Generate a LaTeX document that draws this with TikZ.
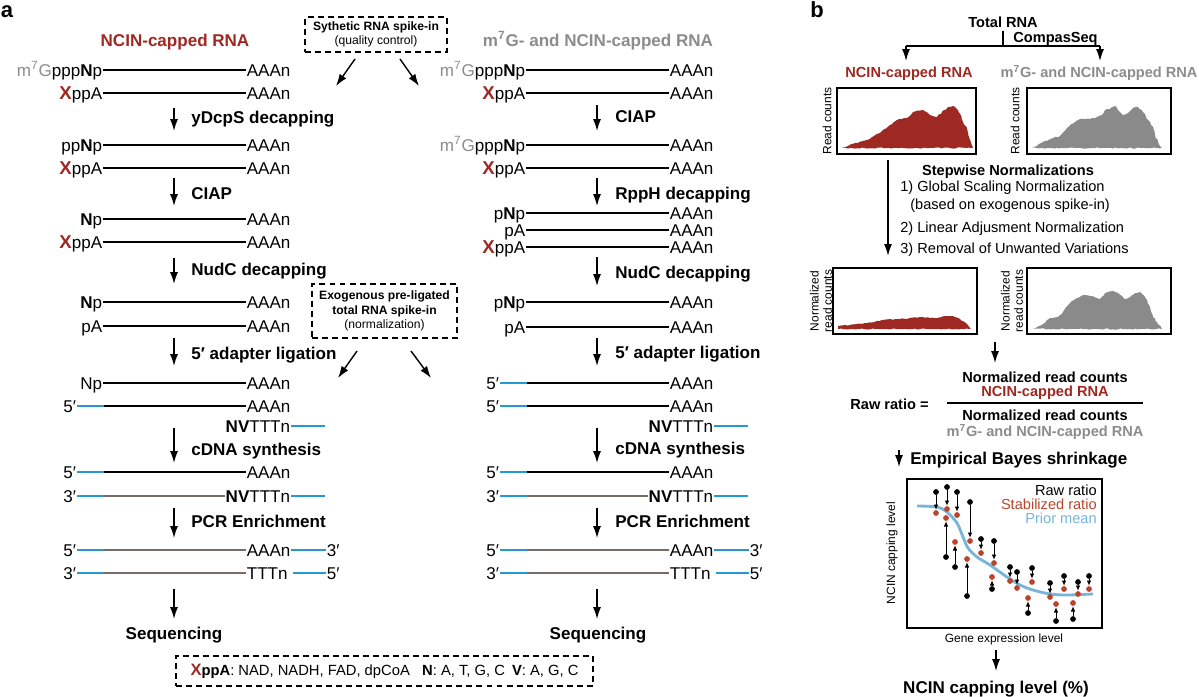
\documentclass[tikz,border=0pt]{standalone}
\usepackage{fontspec}
\setmainfont{Liberation Sans}
\usepackage{tikz}
\usetikzlibrary{arrows.meta, decorations.pathmorphing}
\definecolor{ncinred}{RGB}{158,40,34}
\definecolor{capgray}{RGB}{140,140,140}
\definecolor{histgray}{RGB}{138,138,138}
\definecolor{adblue}{RGB}{38,152,212}
\definecolor{cdnabrown}{RGB}{120,108,100}
\definecolor{stabred}{RGB}{184,70,44}
\definecolor{priorblue}{RGB}{118,180,218}
\newcommand{\xcap}{\textcolor{ncinred}{\fontsize{10.6}{11}\selectfont\bfseries X}}
\newcommand{\mseven}{\textcolor{capgray}{m\textsuperscript{7}G}}

\begin{document}
\begin{tikzpicture}[x = 0.02cm, y = -0.02cm]
% Node styles ---
\tikzstyle{lbl} = [anchor = east, inner sep = 0.3pt, text height = 6.95pt, text depth = 0pt, font = \fontsize{9.7}{11}\selectfont] % 5' ends
\tikzstyle{tl} = [lbl, anchor = west] % 3' ends
\tikzstyle{ttl} = [inner sep = 0pt, text height = 6.95pt, text depth = 0pt, font = \fontsize{9.7}{11}\selectfont\bfseries] % Titles
\tikzstyle{enz} = [ttl, anchor = west] % Enzymatic steps
\tikzstyle{panel} = [anchor = base, inner sep = 0pt, font = \fontsize{12.5}{14}\selectfont\bfseries] % Panel letters
\tikzstyle{dbox} = [draw, line width = 0.7pt, dash pattern = on 3.4pt off 2.3pt, align = center, inner sep = 0pt, font = \fontsize{6.9}{8.2}\selectfont] % Spike-in boxes
\tikzstyle{hb} = [inner sep = 0pt, text height = 5.95pt, text depth = 0pt, font = \fontsize{8.3}{10}\selectfont\bfseries] % Panel b, bold
\tikzstyle{tb} = [hb, font = \fontsize{8.3}{10}\selectfont] % Panel b, plain
\tikzstyle{ax} = [align = center, inner sep = 0pt, font = \fontsize{6.8}{7.6}\selectfont] % Axis labels
\tikzstyle{raw} = [circle, fill = black, inner sep = 0pt, minimum size = 0.115cm] % Raw ratio
\tikzstyle{stb} = [raw, fill = stabred] % Stabilized ratio
% Edge styles
\tikzstyle{rna} = [draw, line width = 1.2pt] % RNA
\tikzstyle{ada} = [draw = adblue, line width = 1.2pt] % Adapters
\tikzstyle{cdna} = [draw = cdnabrown, line width = 1.2pt] % cDNA
\tikzstyle{con} = [draw, -{Latex[length = 6.8pt, width = 4.6pt]}, line width = 0.8pt] % Steps
\tikzstyle{shr} = [draw, -{Latex[length = 3pt, width = 2.6pt]}, line width = 0.55pt] % Shrinkage
\tikzstyle{box} = [line width = 0.7pt] % Plot frames
% Begin Figure ---
\useasboundingbox (0,0) rectangle (1199,696);

% Panel a: NCIN-capped RNA ---
\node at (7,18) [panel] (pa) {a};
\node at (175,40) [ttl, text = ncinred] (Lttl) {NCIN-capped RNA};
% Nodes
\node at (103,70) [lbl] (L1s) {\mseven ppp\textbf{N}p};
\node at (246,70) [tl] (L1t) {AAAn};
\node at (103,93) [lbl] (L2s) {\xcap ppA};
\node at (246,93) [tl] (L2t) {AAAn};
\node at (103,145) [lbl] (L3s) {pp\textbf{N}p};
\node at (246,145) [tl] (L3t) {AAAn};
\node at (103,168) [lbl] (L4s) {\xcap ppA};
\node at (246,168) [tl] (L4t) {AAAn};
\node at (103,219) [lbl] (L5s) {\textbf{N}p};
\node at (246,219) [tl] (L5t) {AAAn};
\node at (103,242) [lbl] (L6s) {\xcap ppA};
\node at (246,242) [tl] (L6t) {AAAn};
\node at (103,302) [lbl] (L7s) {\textbf{N}p};
\node at (246,302) [tl] (L7t) {AAAn};
\node at (103,326) [lbl] (L8s) {pA};
\node at (246,326) [tl] (L8t) {AAAn};
\node at (103,383) [lbl] (L9s) {Np};
\node at (246,383) [tl] (L9t) {AAAn};
\node at (77,406) [lbl] (L10s) {5′};
\coordinate (L10a) at (104,406);
\node at (246,406) [tl] (L10t) {AAAn};
\node at (291,426) [lbl] (L11s) {\textbf{NV}TTTn};
\coordinate (L11e) at (325,426);
\node at (77,472) [lbl] (L12s) {5′};
\coordinate (L12a) at (104,472);
\node at (246,472) [tl] (L12t) {AAAn};
\node at (77,496) [lbl] (L13s) {3′};
\coordinate (L13a) at (104,496);
\node at (291,496) [lbl] (L13n) {\textbf{NV}TTTn};
\coordinate (L13e) at (325,496);
\node at (77,550) [lbl] (L14s) {5′};
\coordinate (L14a) at (104,550);
\node at (246,550) [tl] (L14t) {AAAn};
\node at (326,550) [tl] (L14e) {3′};
\node at (77,573) [lbl] (L15s) {3′};
\coordinate (L15a) at (104,573);
\node at (246,573) [tl] (L15t) {TTTn};
\coordinate (L15b) at (293,573);
\node at (326,573) [tl] (L15e) {5′};
% Paths
\path (L1s) edge [rna] (L1t);
\path (L2s) edge [rna] (L2t);
\path (L3s) edge [rna] (L3t);
\path (L4s) edge [rna] (L4t);
\path (L5s) edge [rna] (L5t);
\path (L6s) edge [rna] (L6t);
\path (L7s) edge [rna] (L7t);
\path (L8s) edge [rna] (L8t);
\path (L9s) edge [rna] (L9t);
\path (L10s) edge [ada] (L10a);
\path (L10a) edge [rna] (L10t);
\path (L11s) edge [ada] (L11e);
\path (L12s) edge [ada] (L12a);
\path (L12a) edge [rna] (L12t);
\path (L13s) edge [ada] (L13a);
\path (L13a) edge [cdna] (L13n);
\path (L13n) edge [ada] (L13e);
\path (L14s) edge [ada] (L14a);
\path (L14a) edge [cdna] (L14t);
\path (L14t) edge [ada] (L14e);
\path (L15s) edge [ada] (L15a);
\path (L15a) edge [cdna] (L15t);
\path (L15b) edge [ada] (L15e);
% Steps
\coordinate (La1) at (174,108); \coordinate (Lb1) at (174,131);
\coordinate (La2) at (174,178); \coordinate (Lb2) at (174,206);
\coordinate (La3) at (174,258); \coordinate (Lb3) at (174,284);
\coordinate (La4) at (174,338); \coordinate (Lb4) at (174,366);
\coordinate (La5) at (174,428); \coordinate (Lb5) at (174,463);
\coordinate (La6) at (174,508); \coordinate (Lb6) at (174,538);
\coordinate (La7) at (174,589); \coordinate (Lb7) at (174,619);
\path (La1) edge [con] (Lb1);
\path (La2) edge [con] (Lb2);
\path (La3) edge [con] (Lb3);
\path (La4) edge [con] (Lb4);
\path (La5) edge [con] (Lb5);
\path (La6) edge [con] (Lb6);
\path (La7) edge [con] (Lb7);
\node at (191,117) [enz] (Le1) {yDcpS decapping};
\node at (191,193) [enz] (Le2) {CIAP};
\node at (191,269) [enz] (Le3) {NudC decapping};
\node at (191,353) [enz] (Le4) {5′ adapter ligation};
\node at (191,449) [enz] (Le5) {cDNA synthesis};
\node at (191,521) [enz] (Le6) {PCR Enrichment};
\node at (174,633) [ttl] (Lseq) {Sequencing};

% Panel a: m7G- and NCIN-capped RNA ---
\node at (598,40) [ttl, text = capgray] (Rttl) {m\textsuperscript{7}G- and NCIN-capped RNA};
% Nodes
\node at (526,70) [lbl] (R1s) {\mseven ppp\textbf{N}p};
\node at (669,70) [tl] (R1t) {AAAn};
\node at (526,93) [lbl] (R2s) {\xcap ppA};
\node at (669,93) [tl] (R2t) {AAAn};
\node at (526,145) [lbl] (R3s) {\mseven ppp\textbf{N}p};
\node at (669,145) [tl] (R3t) {AAAn};
\node at (526,168) [lbl] (R4s) {\xcap ppA};
\node at (669,168) [tl] (R4t) {AAAn};
\node at (526,213) [lbl] (R5s) {p\textbf{N}p};
\node at (669,213) [tl] (R5t) {AAAn};
\node at (526,230) [lbl] (R6s) {pA};
\node at (669,230) [tl] (R6t) {AAAn};
\node at (526,247) [lbl] (R7s) {\xcap ppA};
\node at (669,247) [tl] (R7t) {AAAn};
\node at (526,302) [lbl] (R8s) {p\textbf{N}p};
\node at (669,302) [tl] (R8t) {AAAn};
\node at (526,327) [lbl] (R9s) {pA};
\node at (669,327) [tl] (R9t) {AAAn};
\node at (500,383) [lbl] (R10s) {5′};
\coordinate (R10a) at (527,383);
\node at (669,383) [tl] (R10t) {AAAn};
\node at (500,406) [lbl] (R11s) {5′};
\coordinate (R11a) at (527,406);
\node at (669,406) [tl] (R11t) {AAAn};
\node at (714,426) [lbl] (R12s) {\textbf{NV}TTTn};
\coordinate (R12e) at (748,426);
\node at (500,472) [lbl] (R13s) {5′};
\coordinate (R13a) at (527,472);
\node at (669,472) [tl] (R13t) {AAAn};
\node at (500,496) [lbl] (R14s) {3′};
\coordinate (R14a) at (527,496);
\node at (714,496) [lbl] (R14n) {\textbf{NV}TTTn};
\coordinate (R14e) at (748,496);
\node at (500,550) [lbl] (R15s) {5′};
\coordinate (R15a) at (527,550);
\node at (669,550) [tl] (R15t) {AAAn};
\node at (749,550) [tl] (R15e) {3′};
\node at (500,573) [lbl] (R16s) {3′};
\coordinate (R16a) at (527,573);
\node at (669,573) [tl] (R16t) {TTTn};
\coordinate (R16b) at (716,573);
\node at (749,573) [tl] (R16e) {5′};
% Paths
\path (R1s) edge [rna] (R1t);
\path (R2s) edge [rna] (R2t);
\path (R3s) edge [rna] (R3t);
\path (R4s) edge [rna] (R4t);
\path (R5s) edge [rna] (R5t);
\path (R6s) edge [rna] (R6t);
\path (R7s) edge [rna] (R7t);
\path (R8s) edge [rna] (R8t);
\path (R9s) edge [rna] (R9t);
\path (R10s) edge [ada] (R10a);
\path (R10a) edge [rna] (R10t);
\path (R11s) edge [ada] (R11a);
\path (R11a) edge [rna] (R11t);
\path (R12s) edge [ada] (R12e);
\path (R13s) edge [ada] (R13a);
\path (R13a) edge [rna] (R13t);
\path (R14s) edge [ada] (R14a);
\path (R14a) edge [cdna] (R14n);
\path (R14n) edge [ada] (R14e);
\path (R15s) edge [ada] (R15a);
\path (R15a) edge [cdna] (R15t);
\path (R15t) edge [ada] (R15e);
\path (R16s) edge [ada] (R16a);
\path (R16a) edge [cdna] (R16t);
\path (R16b) edge [ada] (R16e);
% Steps
\coordinate (Ra1) at (597,105); \coordinate (Rb1) at (597,131);
\coordinate (Ra2) at (597,178); \coordinate (Rb2) at (597,206);
\coordinate (Ra3) at (597,257); \coordinate (Rb3) at (597,286);
\coordinate (Ra4) at (597,338); \coordinate (Rb4) at (597,366);
\coordinate (Ra5) at (597,428); \coordinate (Rb5) at (597,463);
\coordinate (Ra6) at (597,508); \coordinate (Rb6) at (597,538);
\coordinate (Ra7) at (597,589); \coordinate (Rb7) at (597,619);
\path (Ra1) edge [con] (Rb1);
\path (Ra2) edge [con] (Rb2);
\path (Ra3) edge [con] (Rb3);
\path (Ra4) edge [con] (Rb4);
\path (Ra5) edge [con] (Rb5);
\path (Ra6) edge [con] (Rb6);
\path (Ra7) edge [con] (Rb7);
\node at (615,116) [enz] (Re1) {CIAP};
\node at (615,193) [enz] (Re2) {RppH decapping};
\node at (615,272) [enz] (Re3) {NudC decapping};
\node at (615,352) [enz] (Re4) {5′ adapter ligation};
\node at (615,448) [enz] (Re5) {cDNA synthesis};
\node at (615,521) [enz] (Re6) {PCR Enrichment};
\node at (598,633) [ttl] (Rseq) {Sequencing};

% Spike-ins
\node at (376,34.5) [dbox, minimum width = 2.84cm, minimum height = 0.7cm] (qc) {\textbf{Sythetic RNA spike-in}\\(quality control)};
\node at (384.5,311) [dbox, minimum width = 2.9cm, minimum height = 1.08cm, font = \fontsize{6.9}{8.3}\selectfont] (nm) {\textbf{Exogenous pre-ligated}\\\textbf{total RNA spike-in}\\(normalization)};
\coordinate (qc1) at (355,59); \coordinate (qc2) at (336,86);
\coordinate (qc3) at (400,59); \coordinate (qc4) at (419,86);
\coordinate (nm1) at (357,351); \coordinate (nm2) at (338,378);
\coordinate (nm3) at (411,351); \coordinate (nm4) at (431,378);
\path (qc1) edge [con] (qc2);
\path (qc3) edge [con] (qc4);
\path (nm1) edge [con] (nm2);
\path (nm3) edge [con] (nm4);
% Key
\node at (384.5,671) [dbox, minimum width = 8.34cm, minimum height = 0.6cm, font = \fontsize{8.4}{10}\selectfont] (key) {\textcolor{ncinred}{\fontsize{9.4}{10}\selectfont\bfseries X}\textbf{ppA}: NAD, NADH, FAD, dpCoA\hspace{7pt}\textbf{N}: A, T, G, C\hspace{4pt}\textbf{V}: A, G, C};

% Panel b ---
\node at (817,18) [panel] (pb) {b};
\node at (1003,22) [hb] (tot) {Total RNA};
\node at (1013,37) [hb, anchor = west] (cseq) {CompasSeq};
\coordinate (tt) at (1003,31); \coordinate (tj) at (1003,46);
\coordinate (tl) at (906,46); \coordinate (tr) at (1100,46);
\coordinate (tla) at (906,61); \coordinate (tra) at (1100,61);
\draw [line width = 0.8pt] (tt) -- (tj);
\draw [line width = 0.8pt] (tl) -- (tr);
\path (tl) edge [con] (tla);
\path (tr) edge [con] (tra);
\node at (909,72) [hb, text = ncinred] (bn) {NCIN-capped RNA};
\node at (1099,72) [hb, text = capgray] (bm) {m\textsuperscript{7}G- and NCIN-capped RNA};
% Read count profiles
\pgfmathsetseed{7}
\fill [ncinred, decorate, decoration = {random steps, segment length = 1.4pt, amplitude = 0.35pt}] (842,148) -- (853,144) -- (867,140) -- (880,133) -- (890,125) -- (897,120) -- (907,118) -- (913,112) -- (923,110) -- (930,115) -- (937,117) -- (942,112) -- (948,107) -- (953,106) -- (958,110) -- (963,122) -- (967,128) -- (970,140) -- (973,148) -- cycle;
\fill [histgray, decorate, decoration = {random steps, segment length = 1.4pt, amplitude = 0.35pt}] (1032,148) -- (1043,142) -- (1053,138) -- (1060,136) -- (1067,128) -- (1075,122) -- (1080,119) -- (1090,119) -- (1097,117) -- (1102,115) -- (1105,110) -- (1110,109) -- (1115,106) -- (1118,110) -- (1123,115) -- (1128,113) -- (1133,108) -- (1138,107) -- (1143,112) -- (1148,120) -- (1153,127) -- (1155,135) -- (1158,142) -- (1162,148) -- cycle;
\fill [ncinred, decorate, decoration = {random steps, segment length = 1.4pt, amplitude = 0.3pt}] (838,329) -- (838,326) -- (850,325) -- (867,323) -- (883,320) -- (900,319) -- (910,318) -- (920,317) -- (930,318) -- (937,318) -- (947,316) -- (953,316) -- (960,319) -- (967,324) -- (971,329) -- cycle;
\fill [histgray, decorate, decoration = {random steps, segment length = 1.4pt, amplitude = 0.35pt}] (1033,329) -- (1043,324) -- (1050,318) -- (1058,317) -- (1063,312) -- (1070,303) -- (1077,298) -- (1083,295) -- (1090,296) -- (1100,299) -- (1105,293) -- (1113,291) -- (1118,293) -- (1125,299) -- (1130,297) -- (1135,293) -- (1140,292) -- (1145,297) -- (1150,307) -- (1153,317) -- (1157,322) -- (1162,329) -- cycle;
\draw [box] (837,88) rectangle (976,154);
\draw [box] (1027,88) rectangle (1171,154);
\draw [box] (833,268) rectangle (977,334);
\draw [box] (1027,268) rectangle (1171,334);
\node at (827,121) [ax, rotate = 90] (yc1) {Read counts};
\node at (1015,121) [ax, rotate = 90] (yc2) {Read counts};
\node at (821,301) [ax, rotate = 90] (yc3) {Normalized\\read counts};
\node at (1012,301) [ax, rotate = 90] (yc4) {Normalized\\read counts};
% Normalizations
\coordinate (sn1) at (888,160); \coordinate (sn2) at (888,256);
\path (sn1) edge [con, line width = 1pt] (sn2);
\node at (1008,170) [hb] (sw) {Stepwise Normalizations};
\node at (900,186) [tb, anchor = west] (sw1) {1) Global Scaling Normalization};
\node at (910,204) [tb, anchor = west] (sw2) {(based on exogenous spike-in)};
\node at (900,227) [tb, anchor = west] (sw3) {2) Linear Adjusment Normalization};
\node at (900,248) [tb, anchor = west] (sw4) {3) Removal of Unwanted Variations};
% Raw ratio
\coordinate (rr1) at (995,342); \coordinate (rr2) at (995,363);
\path (rr1) edge [con] (rr2);
\node at (1045,377) [hb] (nu1) {Normalized read counts};
\node at (1045,391) [hb, text = ncinred] (nu2) {NCIN-capped RNA};
\coordinate (fl) at (947,403); \coordinate (fr) at (1143,403);
\draw [line width = 1.5pt] (fl) -- (fr);
\node at (1045,415) [hb] (de1) {Normalized read counts};
\node at (1045,431) [hb, text = capgray] (de2) {m\textsuperscript{7}G- and NCIN-capped RNA};
\node at (850,404) [hb, anchor = west] (rr) {Raw ratio =};
% Shrinkage
\coordinate (eb1) at (899,450); \coordinate (eb2) at (899,467);
\path (eb1) edge [con] (eb2);
\node at (910,458) [enz] (eb) {Empirical Bayes shrinkage};
\draw [box] (907,479) rectangle (1102,628);
\node at (892,553) [ax, rotate = 90] (yl) {NCIN capping level};
\node at (1004,639) [ax] (xl) {Gene expression level};
\draw [priorblue, line width = 1.6pt] plot [smooth] coordinates {(917,506) (937,507) (947,512) (957,523) (963,537) (968,548) (977,557) (990,565) (1007,577) (1020,585) (1033,590) (1050,594) (1067,595) (1093,594)};
\node at (1097,490) [tb, anchor = east] (lg1) {Raw ratio};
\node at (1097,504) [tb, anchor = east, text = stabred] (lg2) {Stabilized ratio};
\node at (1097,518) [tb, anchor = east, text = priorblue] (lg3) {Prior mean};
\node at (936,492) [raw] (r1) {}; \node at (936,513) [stb] (s1) {}; \path (r1) edge [shr] (s1);
\node at (947,487) [raw] (r2) {}; \node at (947,509) [stb] (s2) {}; \path (r2) edge [shr] (s2);
\node at (957,492) [raw] (r3) {}; \node at (957,515) [stb] (s3) {}; \path (r3) edge [shr] (s3);
\node at (946,557) [raw] (r4) {}; \node at (946,518) [stb] (s4) {}; \path (r4) edge [shr] (s4);
\node at (955,567) [raw] (r5) {}; \node at (955,542) [stb] (s5) {}; \path (r5) edge [shr] (s5);
\node at (970,502) [raw] (r6) {}; \node at (970,541) [stb] (s6) {}; \path (r6) edge [shr] (s6);
\node at (967,596) [raw] (r7) {}; \node at (967,559) [stb] (s7) {}; \path (r7) edge [shr] (s7);
\node at (981,539) [raw] (r8) {}; \node at (981,553) [stb] (s8) {}; \path (r8) edge [shr] (s8);
\node at (994,541) [raw] (r9) {}; \node at (994,563) [stb] (s9) {}; \path (r9) edge [shr] (s9);
\node at (992,589) [raw] (r10) {}; \node at (992,577) [stb] (s10) {}; \path (r10) edge [shr] (s10);
\node at (1010,567) [raw] (r11) {}; \node at (1010,581) [stb] (s11) {}; \path (r11) edge [shr] (s11);
\node at (1017,572) [raw] (r12) {}; \node at (1017,588) [stb] (s12) {}; \path (r12) edge [shr] (s12);
\node at (1032,568) [raw] (r13) {}; \node at (1032,582) [stb] (s13) {}; \path (r13) edge [shr] (s13);
\node at (1028,613) [raw] (r14) {}; \node at (1028,598) [stb] (s14) {}; \path (r14) edge [shr] (s14);
\node at (1050,583) [raw] (r15) {}; \node at (1050,597) [stb] (s15) {}; \path (r15) edge [shr] (s15);
\node at (1056,621) [raw] (r16) {}; \node at (1056,604) [stb] (s16) {}; \path (r16) edge [shr] (s16);
\node at (1064,576) [raw] (r17) {}; \node at (1064,589) [stb] (s17) {}; \path (r17) edge [shr] (s17);
\node at (1073,619) [raw] (r18) {}; \node at (1073,603) [stb] (s18) {}; \path (r18) edge [shr] (s18);
\node at (1078,582) [raw] (r19) {}; \node at (1078,594) [stb] (s19) {}; \path (r19) edge [shr] (s19);
\node at (1089,576) [raw] (r20) {}; \node at (1089,589) [stb] (s20) {}; \path (r20) edge [shr] (s20);
% Result
\coordinate (cl1) at (996,650); \coordinate (cl2) at (996,671);
\path (cl1) edge [con] (cl2);
\node at (996,687) [ttl] (cl) {NCIN capping level (\%)};
\end{tikzpicture}
\end{document}
